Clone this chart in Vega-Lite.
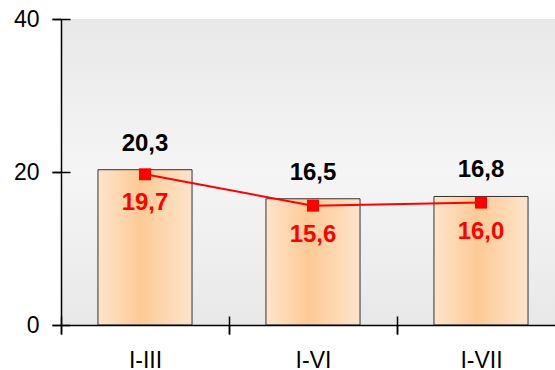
{
  "$schema": "https://vega.github.io/schema/vega-lite/v6.json",
  "autosize": {"type": "none"},
  "padding": {"left": 61, "top": 19, "right": 0, "bottom": 45},
  "width": 494,
  "height": 306,
  "background": "white",
  "config": {
    "view": {"stroke": null},
    "font": "Liberation Sans",
    "axis": {"labelFont": "Liberation Sans", "labelFontSize": 23, "labelColor": "black", "domainColor": "black", "tickColor": "black", "domainWidth": 1.5, "tickWidth": 1.5, "grid": false, "title": null}
  },
  "data": {
    "values": [
      {"period": "I-III", "total": 20.3, "totalLabel": "20,3", "rate": 19.7, "rateLabel": "19,7"},
      {"period": "I-VI", "total": 16.5, "totalLabel": "16,5", "rate": 15.6, "rateLabel": "15,6"},
      {"period": "I-VII", "total": 16.8, "totalLabel": "16,8", "rate": 16.0, "rateLabel": "16,0"}
    ]
  },
  "resolve": {"scale": {"x": "independent", "y": "independent"}},
  "layer": [
    {
      "encoding": {
        "x": {
          "field": "period",
          "type": "nominal",
          "sort": null,
          "scale": {"paddingInner": 0, "paddingOuter": 0, "range": [0, 504]},
          "axis": {"orient": "bottom", "labelAngle": 0, "tickBand": "extent", "tickSize": 9, "labelPadding": 15, "labelBaseline": "top", "zindex": 1}
        }
      },
      "layer": [
        {
          "data": {"values": [{"lo": 0, "hi": 40}]},
          "mark": {"type": "rect", "color": {"gradient": "linear", "x1": 0, "y1": 0, "x2": 0, "y2": 1, "stops": [{"offset": 0, "color": "#e8e8e8"}, {"offset": 0.5, "color": "#f5f5f5"}, {"offset": 1, "color": "#e8e8e8"}]}},
          "encoding": {
            "x": null,
            "y": {"field": "lo", "type": "quantitative", "scale": {"domain": [0, 40], "nice": false}, "axis": {"orient": "left", "values": [0, 20, 40], "tickSize": 9, "labelPadding": 13, "labelAlign": "right", "labelBaseline": "middle", "zindex": 1}},
            "y2": {"field": "hi"}
          }
        },
        {
          "mark": {"type": "bar", "width": {"band": 0.56}, "stroke": "#333333", "strokeWidth": 1, "color": {"gradient": "linear", "x1": 0, "y1": 0, "x2": 1, "y2": 0, "stops": [{"offset": 0, "color": "#fee4cb"}, {"offset": 0.45, "color": "#fdca95"}, {"offset": 1, "color": "#fee4cb"}]}},
          "encoding": {"y": {"field": "total", "type": "quantitative"}}
        },
        {
          "mark": {"type": "text", "fontSize": 24, "fontWeight": "bold", "color": "black", "baseline": "alphabetic", "dy": -19},
          "encoding": {"y": {"field": "total", "type": "quantitative"}, "text": {"field": "totalLabel"}}
        },
        {
          "mark": {"type": "line", "color": "#ff0000", "strokeWidth": 2, "point": {"shape": "square", "size": 144, "filled": true, "color": "#ff0000", "opacity": 1}},
          "encoding": {"y": {"field": "rate", "type": "quantitative"}}
        },
        {
          "mark": {"type": "text", "fontSize": 24, "fontWeight": "bold", "color": "#ff0000", "baseline": "alphabetic", "dy": 36},
          "encoding": {"y": {"field": "rate", "type": "quantitative"}, "text": {"field": "rateLabel"}}
        }
      ]
    },
    {
      "mark": {"type": "point", "opacity": 0},
      "encoding": {
        "x": {
          "field": "period",
          "type": "nominal",
          "sort": null,
          "scale": {"paddingInner": 0, "paddingOuter": 0, "range": [0, 504]},
          "axis": {"orient": "bottom", "labels": false, "domain": false, "tickBand": "extent", "tickSize": 18, "offset": -9, "zindex": 2}
        },
        "y": {
          "field": "total",
          "type": "quantitative",
          "scale": {"domain": [0, 40], "nice": false},
          "axis": {"orient": "left", "labels": false, "domain": false, "values": [0, 20, 40], "tickSize": 18, "offset": -9, "zindex": 2}
        }
      }
    }
  ]
}
